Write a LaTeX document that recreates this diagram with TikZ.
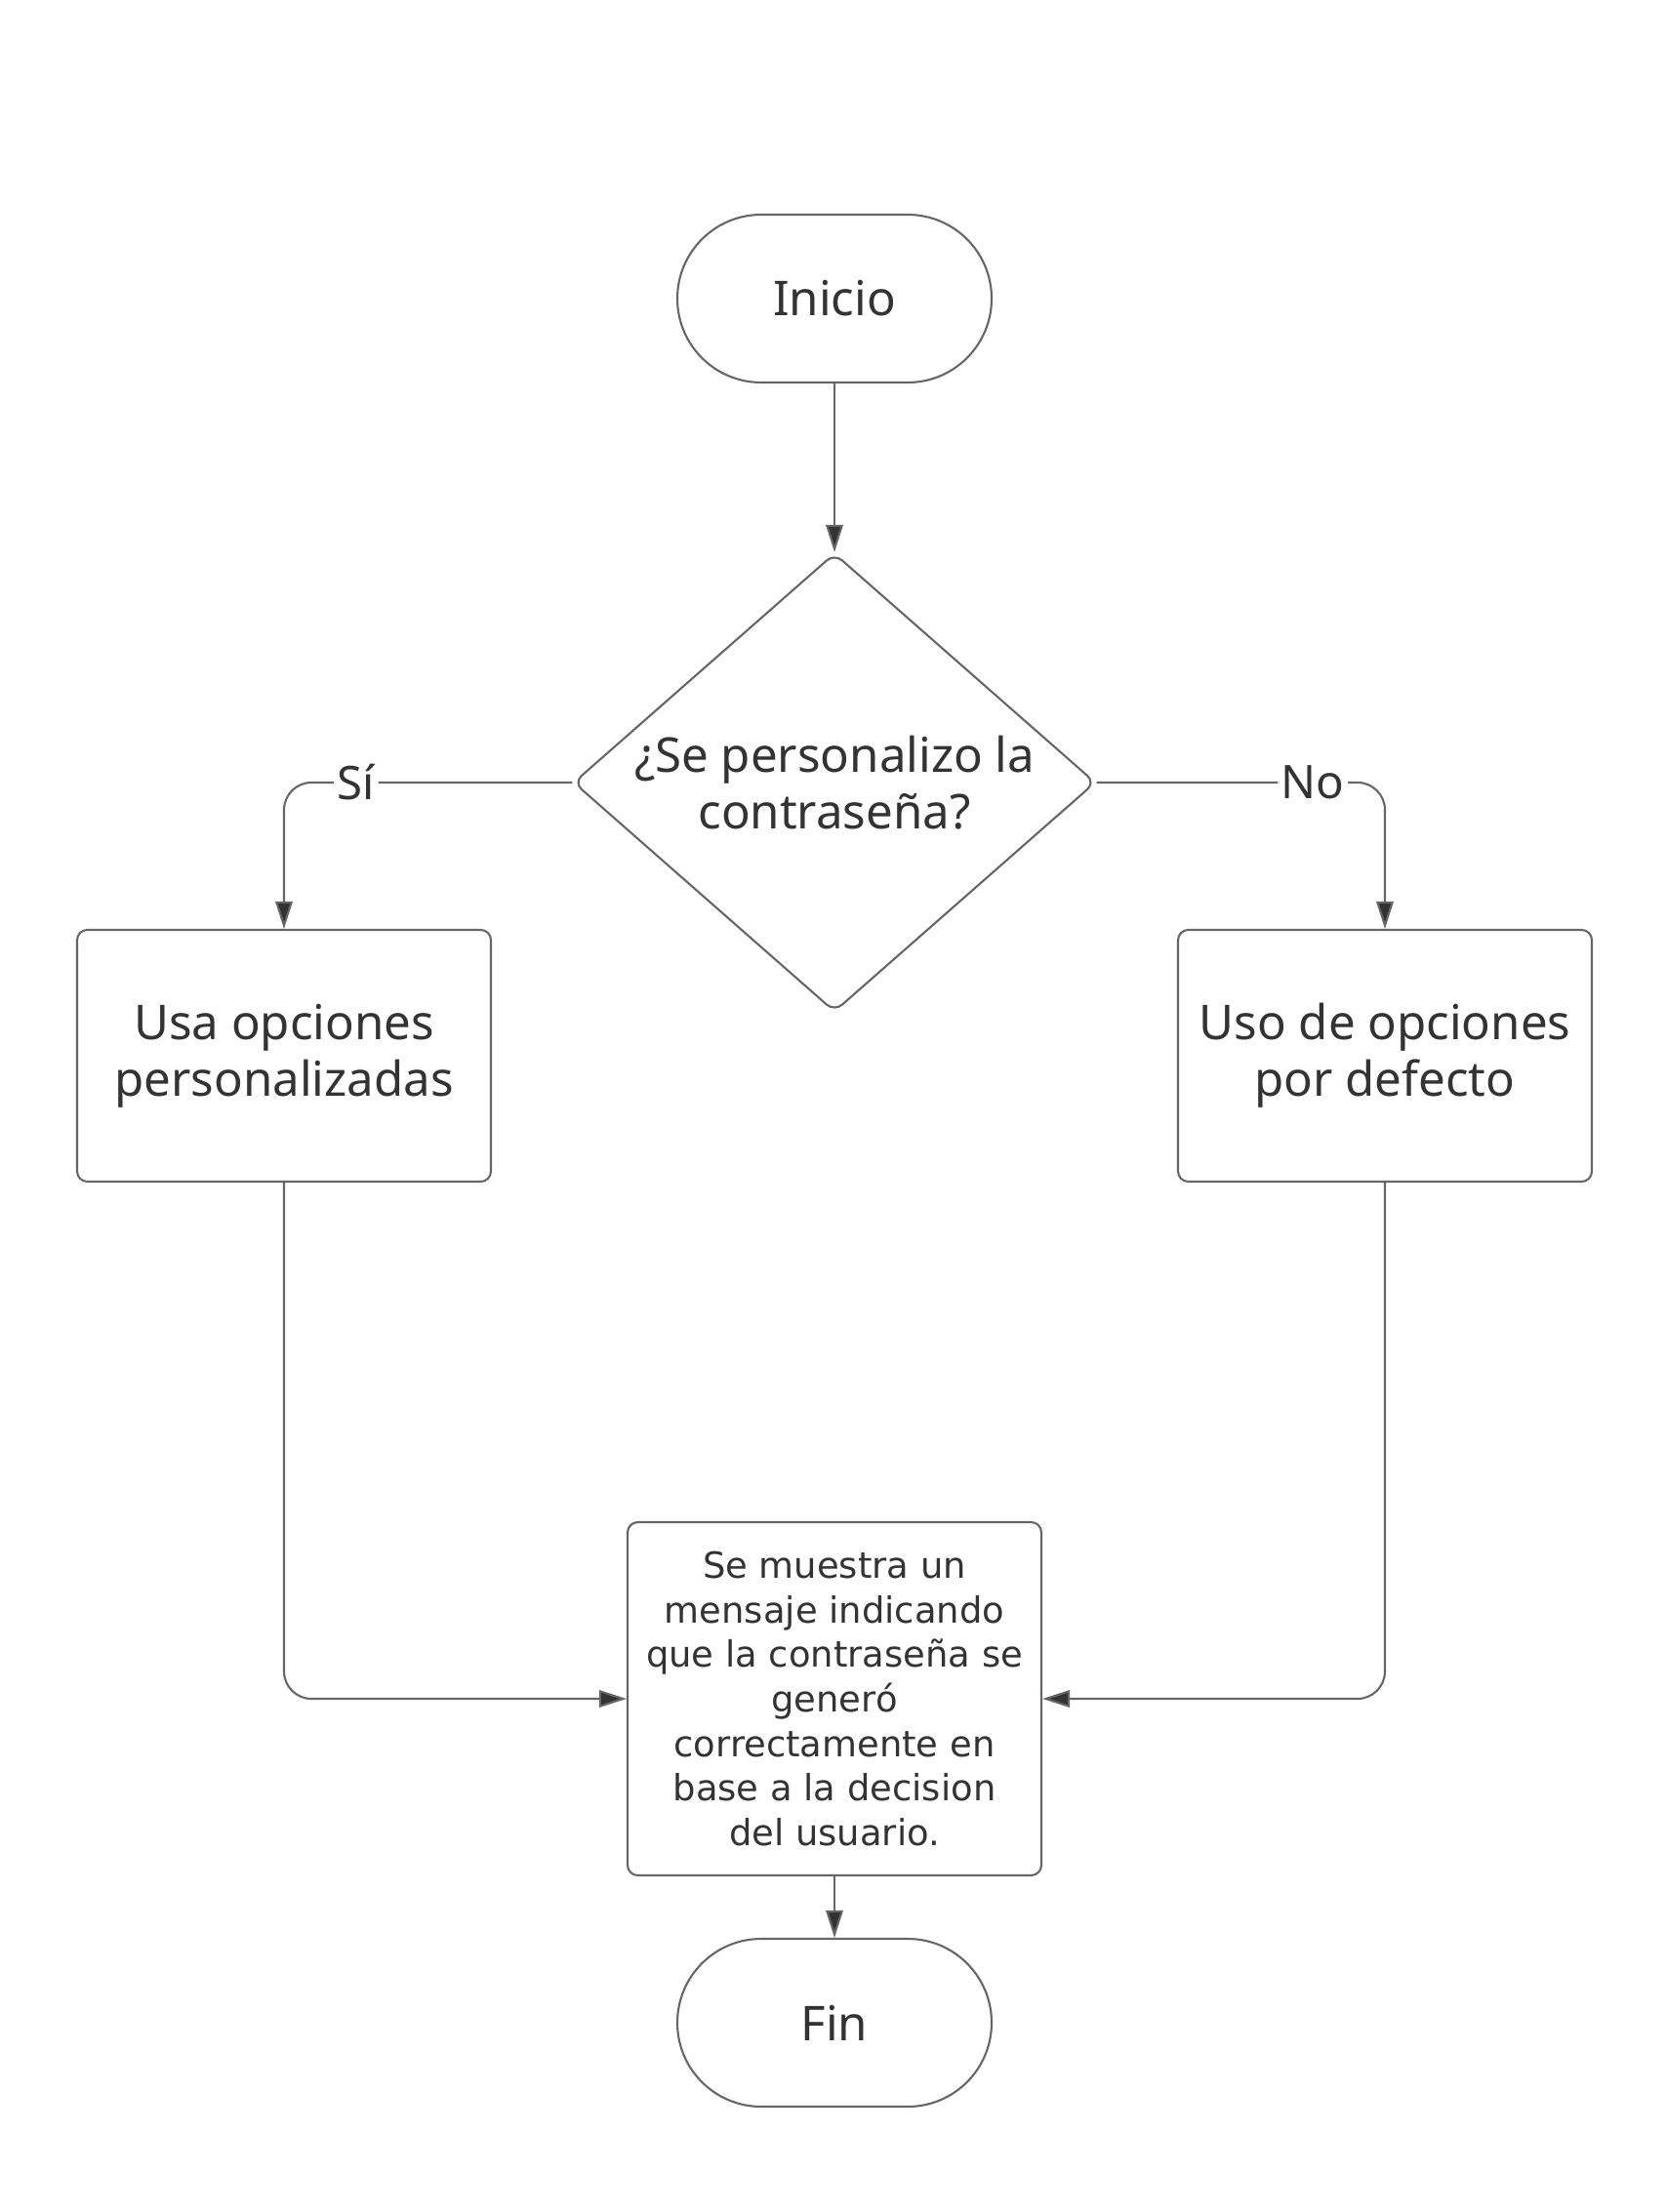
\documentclass[tikz,border=0pt]{standalone}
\usepackage{fontspec}
\setmainfont{Noto Sans}
\newfontfamily\msgfont{DejaVu Sans}
\usetikzlibrary{arrows.meta, shapes.geometric, positioning, calc}

\begin{document}
\begin{tikzpicture}[
    every node/.style={text=black!80, font=\fontsize{14}{16.5}\selectfont},
    terminal/.style={draw=black!60, line width=0.6pt, rectangle, rounded corners=0.86cm, minimum width=3.22cm, minimum height=1.72cm},
    decision/.style={draw=black!60, line width=0.6pt, diamond, aspect=1.153, rounded corners=3pt, minimum width=5.35cm, minimum height=4.7cm, inner sep=0pt, align=center},
    process/.style={draw=black!60, line width=0.6pt, rectangle, rounded corners=3pt, minimum width=4.24cm, minimum height=2.58cm, align=center},
    msgbox/.style={process, minimum height=3.62cm, font=\msgfont\fontsize{10.5}{13}\selectfont},
    flow/.style={draw=black!60, line width=0.6pt, rounded corners=8pt, -{Triangle[length=8pt, width=5pt, fill=black!80]}},
    answer/.style={fill=white, inner sep=1pt, font=\fontsize{13.5}{15}\selectfont}
]
    \useasboundingbox (0,0) rectangle (17.07,-22.67);

    % Draw stages as nodes
    \node[terminal] (start) at (8.55,-3.06) {Inicio};
    \node[decision] (custom) at (8.55,-8.02) {¿Se personalizo la\\contraseña?};

    \node[process] (own) at (2.91,-10.82) {Usa opciones\\personalizadas};
    \node[process] (default) at (14.19,-10.82) {Uso de opciones\\por defecto};

    \node[msgbox] (message) at (8.55,-17.41) {Se muestra un\\mensaje indicando\\que la contraseña se\\generó\\correctamente en\\base a la decision\\del usuario.};
    \node[terminal] (finish) at (8.55,-20.73) {Fin};

    % Draw arrows connecting nodes
    \draw[flow] (start) -- (custom.north);
    \draw[flow] (custom.west) -| node[answer, pos=0.375] (yes) {Sí} (own.north);
    \draw[flow] (custom.east) -| node[answer, pos=0.375] (no) {No} (default.north);
    \draw[flow] (own.south) |- (message.west);
    \draw[flow] (default.south) |- (message.east);
    \draw[flow] (message) -- (finish);
\end{tikzpicture}
\end{document}
